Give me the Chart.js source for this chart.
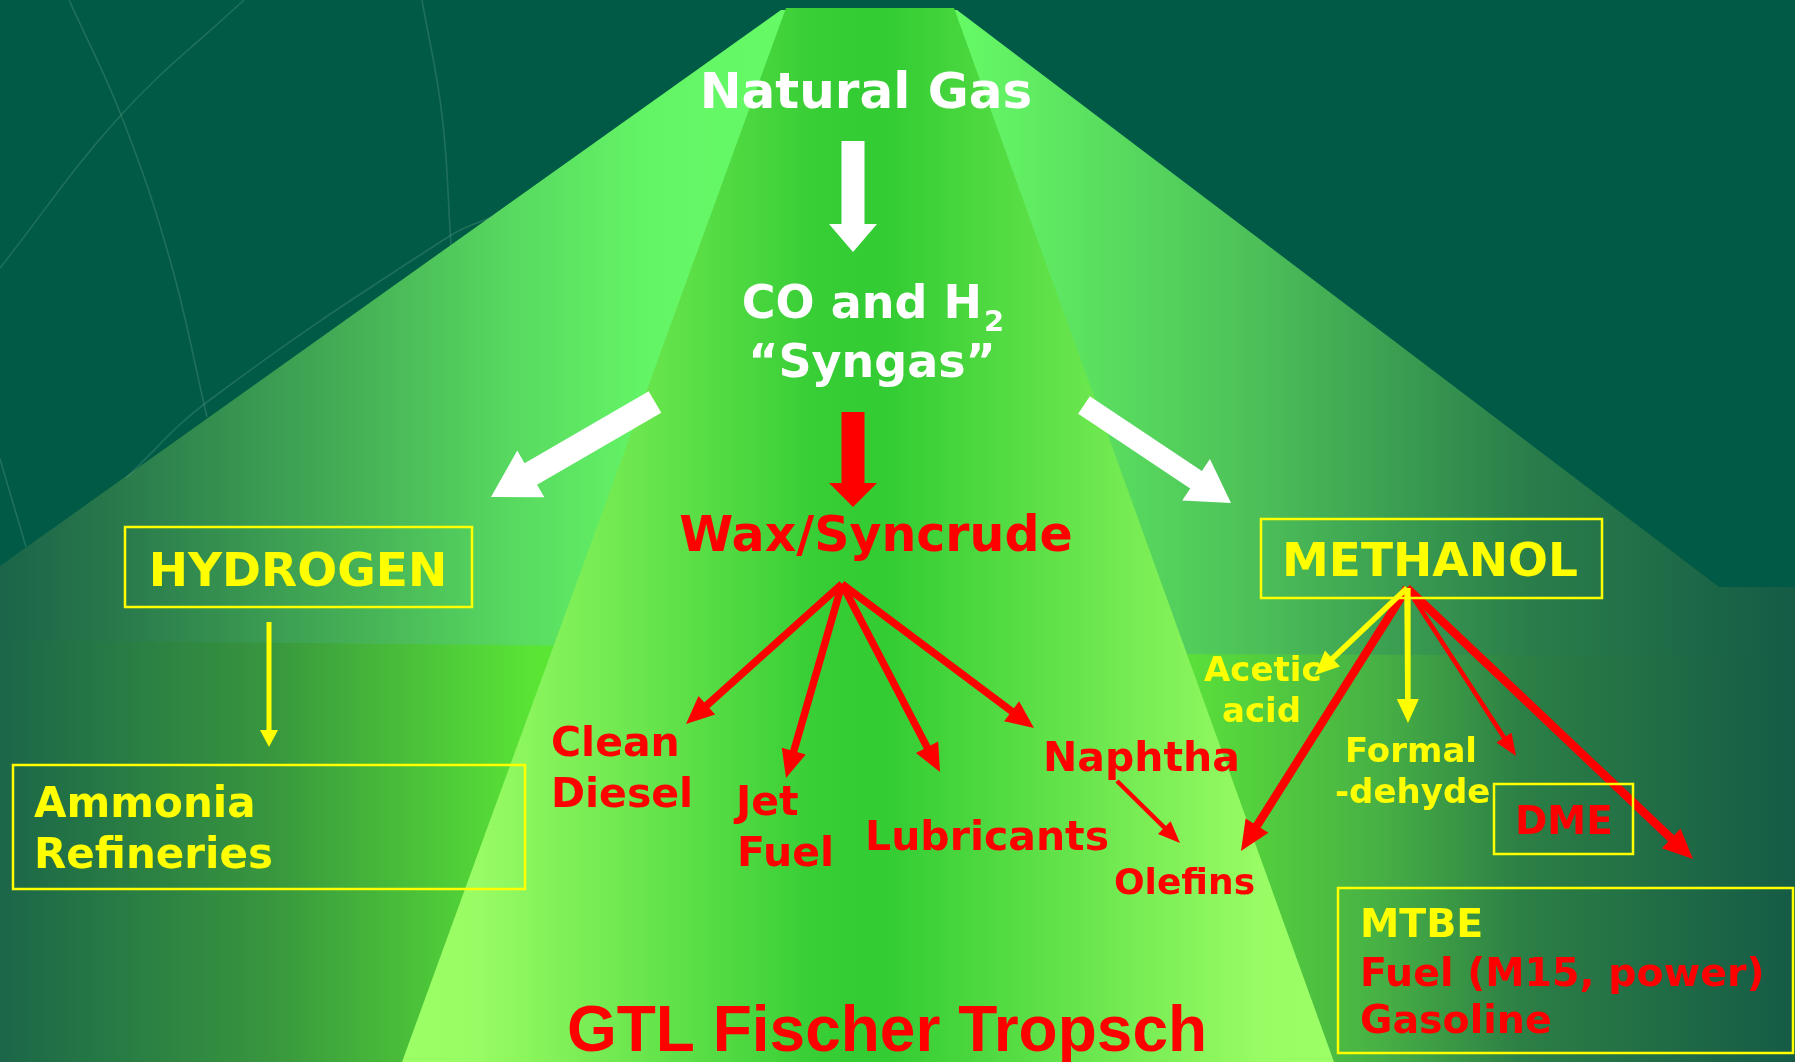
<!DOCTYPE html>
<html lang="en"><head>
<title>Natural Gas: GTL Fischer Tropsch</title>
<style>
* { margin: 0; padding: 0 }
body { background: #005a46; }
canvas { display: block; }
</style>
<script src="https://cdn.jsdelivr.net/npm/chart.js"></script>
<script>

const W = 1795, H = 1062;

// text labels of the diagram, anchored at (x, baseline)
const labelText = ["Natural Gas", "CO and H|2", "\u201CSyngas\u201D", "Wax/Syncrude", "HYDROGEN",
  "Ammonia", "Refineries", "METHANOL", "Clean", "Diesel", "Jet", "Fuel", "Lubricants", "Naphtha",
  "Olefins", "Acetic", "acid", "Formal", "-dehyde", "DME", "MTBE", "Fuel (M15, power)", "Gasoline",
  "GTL Fischer Tropsch"];
const labelX = [866, 873, 872, 876, 298, 34, 34, 1430, 551, 551, 736, 737, 865, 1043,
  1114, 1204, 1222, 1345, 1335, 1515, 1360, 1360, 1360, 887];
const labelY = [108, 318, 377, 551, 586, 817, 868, 576, 756, 807, 815, 866, 850, 771,
  894, 681, 722, 762, 803, 834, 937, 986, 1033, 1051];
const labelKind = ["feed", "gas", "gas", "wax", "box", "use", "use", "box", "fuel", "fuel", "fuel", "fuel", "fuel", "fuel",
  "small", "chem", "chem", "chem", "chem", "dme", "mtbe", "mfuel", "mfuel", "title"];

// yellow outlined boxes [x1, y1, x2, y2]
const boxes = [[125, 527, 472, 607], [13, 765, 525, 889], [1261, 519, 1602, 598],
  [1494, 784, 1633, 854], [1338, 888, 1793, 1053]];

// thin arrows: from, to, kind
const arrowFrom = [[269, 622], [842, 584], [842, 584], [842, 584], [842, 584], [1117, 781],
  [1407, 588], [1407, 588], [1407, 588], [1407, 588], [1407, 588]];
const arrowTo = [[269, 747], [686, 724], [786, 778], [940, 772], [1034, 728], [1180, 843],
  [1315, 675], [1408, 723], [1241, 851], [1516, 756], [1693, 859]];
const arrowKind = ["yellowThin", "red", "red", "red", "red", "redThin",
  "yellow", "yellow", "redWide", "redThin", "redWide"];

// block arrows: tail, tip, kind
const blockFrom = [[853, 141], [853, 412], [655, 402], [1084, 405]];
const blockTo = [[853, 252], [853, 507], [491, 497], [1231, 503]];
const blockKind = ["whiteDown", "redDown", "whiteLeft", "whiteRight"];

// background shapes
const bigShape = [[781, 10], [957, 10], [1719, 587], [1795, 587], [1795, 1062], [0, 1062], [0, 566]];
const lowerLeft = [[0, 640], [600, 646], [600, 1062], [0, 1062]];
const lowerRight = [[1150, 654], [1795, 656], [1795, 1062], [1150, 1062]];
const centreBand = [[786, 8], [954, 8], [1334, 1062], [402, 1062]];

// faint curves in the dark corner
const arcs = [
  [[69, 0], [121, 115], [170, 260], [207, 417]],
  [[244, 0], [121, 115], [0, 268]],
  [[422, 0], [442, 115], [451, 245]],
  [[494, 216], [448, 237], [207, 402], [126, 478]],
  [[0, 459], [26, 547]],
];

const textStyle = {
  feed:  { color: "#ffffff", size: 50, align: "center" },
  gas:   { color: "#ffffff", size: 46, align: "center" },
  wax:   { color: "#ff0000", size: 49, align: "center" },
  box:   { color: "#ffff00", size: 47, align: "center" },
  use:   { color: "#ffff00", size: 42, align: "left" },
  fuel:  { color: "#ff0000", size: 41, align: "left" },
  small: { color: "#ff0000", size: 36, align: "left" },
  chem:  { color: "#ffff00", size: 34, align: "left" },
  dme:   { color: "#ff0000", size: 39, align: "left" },
  mtbe:  { color: "#ffff00", size: 39.5, align: "left" },
  mfuel: { color: "#ff0000", size: 39.5, align: "left" },
  title: { color: "#ff0000", size: 64, align: "center", family: "'Liberation Sans', Arial, sans-serif" },
};
const arrowStyle = {
  red:        { color: "#ff0000", width: 7.5, len: 28, head: 25 },
  redWide:    { color: "#ff0000", width: 8.5, len: 30, head: 27 },
  redThin:    { color: "#ff0000", width: 4.5, len: 22, head: 18 },
  yellow:     { color: "#ffff00", width: 5.5, len: 24, head: 22 },
  yellowThin: { color: "#ffff00", width: 5, len: 17, head: 18 },
};
const blockStyle = {
  whiteDown:  { color: "#ffffff", shaft: 23, head: 48, len: 28 },
  redDown:    { color: "#ff0000", shaft: 23, head: 48, len: 24 },
  whiteLeft:  { color: "#ffffff", shaft: 25, head: 54, len: 46 },
  whiteRight: { color: "#ffffff", shaft: 21, head: 50, len: 42 },
};

function px(chart, p) {
  return [chart.scales.x.getPixelForValue(p[0]), chart.scales.y.getPixelForValue(p[1])];
}

function polyPath(ctx, pts) {
  ctx.beginPath();
  pts.forEach(function (q, i) { if (i) ctx.lineTo(q[0], q[1]); else ctx.moveTo(q[0], q[1]); });
  ctx.closePath();
}

function hgrad(ctx, chart, x0, x1, stops) {
  const g = ctx.createLinearGradient(px(chart, [x0, 0])[0], 0, px(chart, [x1, 0])[0], 0);
  stops.forEach(function (s) { g.addColorStop(s[0], s[1]); });
  return g;
}

const backdrop = {
  id: "backdrop",
  beforeDraw(chart) {
    const ctx = chart.ctx;
    const map = function (pts) { return pts.map(function (p) { return px(chart, p); }); };
    ctx.save();
    ctx.fillStyle = "#005a46";
    ctx.fillRect(0, 0, chart.width, chart.height);

    // big light triangle, left and right halves
    ctx.save();
    polyPath(ctx, map(bigShape));
    ctx.clip();
    ctx.fillStyle = hgrad(ctx, chart, 0, 790, [[0, "#1b6449"], [0.144, "#28784b"], [0.434, "#44ad55"],
      [0.652, "#58da60"], [0.823, "#64f566"], [1, "#66fa66"]]);
    ctx.fillRect(0, 0, px(chart, [870, 0])[0], chart.height);
    ctx.fillStyle = hgrad(ctx, chart, 957, 1795, [[0, "#66fa66"], [0.362, "#4cbf58"], [0.679, "#2a7e4a"], [1, "#155b46"]]);
    const mid = px(chart, [870, 0])[0];
    ctx.fillRect(mid, 0, chart.width - mid, chart.height);
    ctx.restore();

    // lower bands
    polyPath(ctx, map(lowerLeft));
    ctx.fillStyle = hgrad(ctx, chart, 0, 600, [[0, "#1b6649"], [0.45, "#38963e"], [0.89, "#5ae535"], [1, "#5ae833"]]);
    ctx.fill();
    polyPath(ctx, map(lowerRight));
    ctx.fillStyle = hgrad(ctx, chart, 1187, 1795, [[0, "#5ae03a"], [0.32, "#47b044"], [0.55, "#2c7f45"], [1, "#155b46"]]);
    ctx.fill();

    // central band
    polyPath(ctx, map(centreBand));
    ctx.fillStyle = hgrad(ctx, chart, 402, 1334, [[0, "#9cff66"], [0.08, "#99fc64"], [0.45, "#36cd35"],
      [0.52, "#33cc33"], [0.92, "#99fc64"], [1, "#9cff66"]]);
    ctx.fill();
    ctx.restore();
  },
};

function drawHead(ctx, tip, dir, len, width, color) {
  const bx = tip[0] - dir[0] * len, by = tip[1] - dir[1] * len;
  const nx = -dir[1], ny = dir[0];
  ctx.beginPath();
  ctx.moveTo(tip[0], tip[1]);
  ctx.lineTo(bx + nx * width / 2, by + ny * width / 2);
  ctx.lineTo(bx - nx * width / 2, by - ny * width / 2);
  ctx.closePath();
  ctx.fillStyle = color;
  ctx.fill();
}

function unit(a, b) {
  const dx = b[0] - a[0], dy = b[1] - a[1];
  const d = Math.sqrt(dx * dx + dy * dy);
  return [dx / d, dy / d];
}

const overlay = {
  id: "overlay",
  afterDatasetsDraw(chart) {
    const ctx = chart.ctx;
    ctx.save();

    // heads of the thin arrows
    for (let i = 0; i < arrowTo.length; i++) {
      const st = arrowStyle[arrowKind[i]];
      const a = px(chart, arrowFrom[i]), b = px(chart, arrowTo[i]);
      drawHead(ctx, b, unit(a, b), st.len, st.head, st.color);
    }

    // block arrows
    for (let i = 0; i < blockTo.length; i++) {
      const st = blockStyle[blockKind[i]];
      const a = px(chart, blockFrom[i]), b = px(chart, blockTo[i]);
      const d = unit(a, b), n = [-d[1], d[0]];
      const base = [b[0] - d[0] * st.len, b[1] - d[1] * st.len];
      const s = st.shaft / 2, h = st.head / 2;
      polyPath(ctx, [
        [a[0] + n[0] * s, a[1] + n[1] * s],
        [base[0] + n[0] * s, base[1] + n[1] * s],
        [base[0] + n[0] * h, base[1] + n[1] * h],
        b,
        [base[0] - n[0] * h, base[1] - n[1] * h],
        [base[0] - n[0] * s, base[1] - n[1] * s],
        [a[0] - n[0] * s, a[1] - n[1] * s],
      ]);
      ctx.fillStyle = st.color;
      ctx.fill();
    }

    // boxes
    ctx.strokeStyle = "#ffff00";
    ctx.lineWidth = 2.5;
    boxes.forEach(function (bx) {
      const p = px(chart, [bx[0], bx[1]]), q = px(chart, [bx[2], bx[3]]);
      ctx.strokeRect(p[0], p[1], q[0] - p[0], q[1] - p[1]);
    });

    // text
    ctx.textBaseline = "alphabetic";
    for (let i = 0; i < labelText.length; i++) {
      const st = textStyle[labelKind[i]];
      const fam = st.family || "'DejaVu Sans', Verdana, sans-serif";
      const p = px(chart, [labelX[i], labelY[i]]);
      ctx.fillStyle = st.color;
      const parts = labelText[i].split("|");
      if (parts.length === 2) {
        // main text with a subscript
        ctx.font = "bold " + st.size + "px " + fam;
        const w1 = ctx.measureText(parts[0]).width;
        const subSize = Math.round(st.size * 0.62);
        ctx.font = "bold " + subSize + "px " + fam;
        const w2 = ctx.measureText(parts[1]).width;
        let x0 = p[0] - (w1 + w2 + 2) / 2;
        ctx.textAlign = "left";
        ctx.font = "bold " + st.size + "px " + fam;
        ctx.fillText(parts[0], x0, p[1]);
        ctx.font = "bold " + subSize + "px " + fam;
        ctx.fillText(parts[1], x0 + w1 + 2, p[1] + 13);
      } else {
        ctx.font = "bold " + st.size + "px " + fam;
        ctx.textAlign = st.align;
        ctx.fillText(labelText[i], p[0], p[1]);
      }
    }
    ctx.restore();
  },
};

function bodyOnLoad() {
  const datasets = [];
  for (let i = 0; i < arrowTo.length; i++) {
    const st = arrowStyle[arrowKind[i]];
    const a = arrowFrom[i], b = arrowTo[i];
    const d = unit(a, b);
    // stop the shaft inside the head so the tip stays sharp
    const end = { x: b[0] - d[0] * st.len * 0.7, y: b[1] - d[1] * st.len * 0.7 };
    datasets.push({
      data: [{ x: a[0], y: a[1] }, end],
      showLine: true,
      borderColor: st.color,
      borderWidth: st.width,
      borderCapStyle: "butt",
      pointRadius: 0,
      order: 0,
    });
  }
  arcs.forEach(function (pts) {
    datasets.push({
      data: pts.map(function (p) { return { x: p[0], y: p[1] }; }),
      showLine: true,
      tension: 0.4,
      borderColor: "rgba(110,170,145,0.28)",
      borderWidth: 1.6,
      pointRadius: 0,
      order: 2,
    });
  });

  new Chart(document.getElementById("Diagram"), {
    type: "scatter",
    data: { datasets: datasets },
    options: {
      responsive: false,
      devicePixelRatio: 1,
      animation: false,
      layout: { padding: 0 },
      plugins: { legend: { display: false }, tooltip: { enabled: false } },
      scales: {
        x: { type: "linear", min: 0, max: W, display: false },
        y: { type: "linear", min: 0, max: H, reverse: true, display: false },
      },
    },
    plugins: [backdrop, overlay],
  });
}

</script>
</head><body onload="bodyOnLoad()">
<canvas id="Diagram" width="1795" height="1062"></canvas>
</body></html>
